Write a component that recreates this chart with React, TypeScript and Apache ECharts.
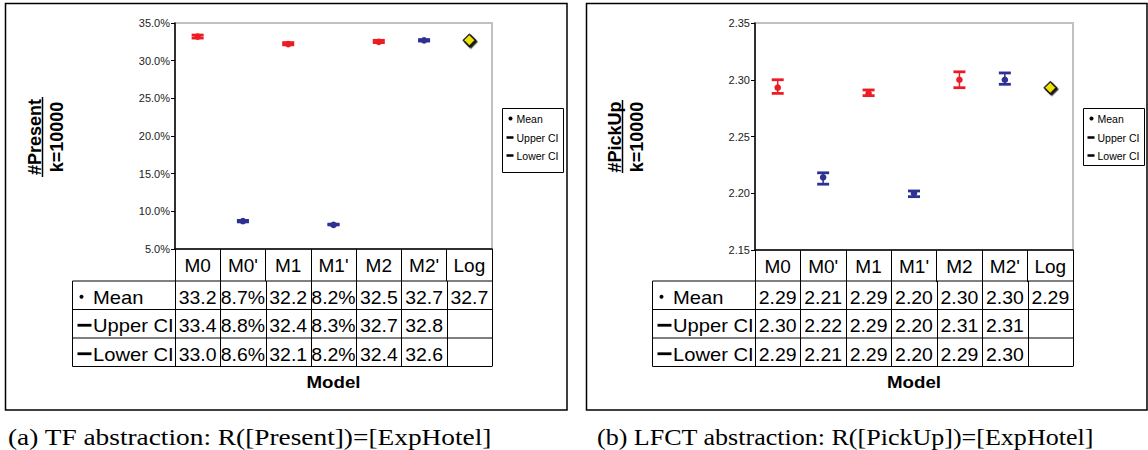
import React, { useEffect, useRef } from "react";
import * as echarts from "echarts";

// ---------- data ----------
const categories = ["M0", "M0'", "M1", "M1'", "M2", "M2'", "Log"];
const rowNames = ["Mean", "Upper CI", "Lower CI"];

// (a) #Present, in percent
const presentMean = [33.2, 8.7, 32.2, 8.2, 32.5, 32.7, 32.7];
const presentUpper = [33.4, 8.8, 32.4, 8.3, 32.7, 32.8, null];
const presentLower = [33.0, 8.6, 32.1, 8.2, 32.4, 32.6, null];
const presentAxis = { min: 5, max: 35, interval: 5 };

// (b) #PickUp
const pickupMean = [2.293, 2.214, 2.288, 2.2, 2.3, 2.3, 2.293];
const pickupUpper = [2.3, 2.218, 2.291, 2.202, 2.307, 2.306, null];
const pickupLower = [2.288, 2.208, 2.286, 2.197, 2.293, 2.296, null];
const pickupAxis = { min: 2.15, max: 2.35, interval: 0.05 };

const captionA = "(a) TF abstraction: R([Present])=[ExpHotel]";
const captionB = "(b) LFCT abstraction: R([PickUp])=[ExpHotel]";

// ---------- styles ----------
const RED = "#ed1c24";
const BLUE = "#2e3192";
const YELLOW = "#fff200";
const SANS = 'Arial, "Liberation Sans", sans-serif';
const SERIF = '"Liberation Serif", "Times New Roman", serif';

type Panel = {
  mean: number[];
  upper: (number | null)[];
  lower: (number | null)[];
  axis: { min: number; max: number; interval: number };
  axisFmt: (v: number) => string;
  cellFmt: (v: number) => string;
  title: string;
  caption: string;
  captionX: number;
  captionScale: number;
  frame: [number, number, number, number];
  grid: { left: number; top: number; width: number; height: number };
  tableLeft: number;
  rowY: number[];
  legend: [number, number, number, number];
  titleBase: number;
  titleY: number;
  underline: [number, number];
};

const panels: Panel[] = [
  {
    mean: presentMean,
    upper: presentUpper,
    lower: presentLower,
    axis: presentAxis,
    axisFmt: (v) => v.toFixed(1) + "%",
    cellFmt: (v) => (v >= 10 ? v.toFixed(1) : v.toFixed(1) + "%"),
    title: "#Present",
    caption: captionA,
    captionX: 8,
    captionScale: 1.14,
    frame: [5.5, 3.5, 561.5, 406.5],
    grid: { left: 175, top: 23, width: 317, height: 226 },
    tableLeft: 72.5,
    rowY: [281, 309.5, 338, 366.5],
    legend: [502.5, 108.5, 61, 64],
    titleBase: 40,
    titleY: 137,
    underline: [97, 177],
  },
  {
    mean: pickupMean,
    upper: pickupUpper,
    lower: pickupLower,
    axis: pickupAxis,
    axisFmt: (v) => v.toFixed(2),
    cellFmt: (v) => v.toFixed(2),
    title: "#PickUp",
    caption: captionB,
    captionX: 597,
    captionScale: 1.085,
    frame: [586.5, 3.5, 560.5, 406.5],
    grid: { left: 755, top: 23, width: 318, height: 227 },
    tableLeft: 652.5,
    rowY: [281, 309.5, 338, 366.5],
    legend: [1083.5, 108.5, 61, 57],
    titleBase: 620,
    titleY: 137,
    underline: [100, 173],
  },
];

function txt(x: number, y: number, text: string, font: string, align = "left", vAlign = "middle", extra: any = {}) {
  return {
    type: "text",
    x,
    y,
    silent: true,
    ...extra,
    style: {
      text,
      font,
      fill: "#000",
      align,
      textAlign: align,
      verticalAlign: vAlign,
      textVerticalAlign: vAlign,
    },
  };
}

function ln(x1: number, y1: number, x2: number, y2: number, w = 1, color = "#000") {
  return {
    type: "line",
    silent: true,
    shape: { x1, y1, x2, y2 },
    style: { stroke: color, lineWidth: w },
  };
}

function build() {
  const grids: any[] = [];
  const xAxes: any[] = [];
  const yAxes: any[] = [];
  const series: any[] = [];
  const graphics: any[] = [];

  panels.forEach((p, pi) => {
    const g = p.grid;
    const cw = g.width / categories.length;
    const gRight = g.left + g.width;

    grids.push({
      left: g.left,
      top: g.top,
      width: g.width,
      height: g.height,
      show: true,
      borderColor: "#c0c0c0",
      borderWidth: 2,
      backgroundColor: "transparent",
    });
    xAxes.push({
      type: "category",
      gridIndex: pi,
      data: categories,
      boundaryGap: true,
      axisLine: { show: true, lineStyle: { color: "#000", width: 1.5 } },
      axisTick: { show: true, interval: 0, length: 32, lineStyle: { color: "#000", width: 1 } },
      axisLabel: { interval: 0, margin: 7, color: "#000", fontSize: 19, fontFamily: SANS },
      splitLine: { show: false },
    });
    yAxes.push({
      type: "value",
      gridIndex: pi,
      min: p.axis.min,
      max: p.axis.max,
      interval: p.axis.interval,
      axisLine: { show: true, lineStyle: { color: "#000", width: 1.5 } },
      axisTick: { show: true, length: 4, lineStyle: { color: "#000" } },
      axisLabel: {
        color: "#222",
        fontSize: 11,
        fontFamily: SANS,
        margin: 5,
        formatter: (v: number) => p.axisFmt(v),
      },
      splitLine: { show: false },
    });

    const errData: number[][] = [];
    const logData: number[][] = [];
    categories.forEach((_, i) => {
      const up = p.upper[i];
      const lo = p.lower[i];
      if (up != null && lo != null) errData.push([i, p.mean[i], lo, up]);
      else logData.push([i, p.mean[i]]);
    });

    series.push({
      type: "custom",
      xAxisIndex: pi,
      yAxisIndex: pi,
      data: errData,
      encode: { x: 0, y: [1, 2, 3] },
      renderItem: (params: any, api: any) => {
        const idx = api.value(0);
        const pm = api.coord([idx, api.value(1)]);
        const pl = api.coord([idx, api.value(2)]);
        const ph = api.coord([idx, api.value(3)]);
        const color = idx % 2 === 0 ? RED : BLUE;
        const hw = 6;
        return {
          type: "group",
          children: [
            { type: "line", shape: { x1: pm[0], y1: ph[1], x2: pm[0], y2: pl[1] }, style: { stroke: color, lineWidth: 1.5 } },
            { type: "line", shape: { x1: pm[0] - hw, y1: ph[1], x2: pm[0] + hw, y2: ph[1] }, style: { stroke: color, lineWidth: 2.8 } },
            { type: "line", shape: { x1: pm[0] - hw, y1: pl[1], x2: pm[0] + hw, y2: pl[1] }, style: { stroke: color, lineWidth: 2.8 } },
            { type: "circle", shape: { cx: pm[0], cy: pm[1], r: 3.3 }, style: { fill: color } },
          ],
        };
      },
    });
    series.push({
      type: "scatter",
      xAxisIndex: pi,
      yAxisIndex: pi,
      data: logData,
      symbol: "diamond",
      symbolSize: 12,
      itemStyle: {
        color: YELLOW,
        borderColor: "#000",
        borderWidth: 1.5,
        shadowColor: "#000",
        shadowOffsetX: 1.5,
        shadowOffsetY: 1.5,
        shadowBlur: 0,
      },
    });

    // frame
    const [fx, fy, fw, fh] = p.frame;
    graphics.push({
      type: "rect",
      silent: true,
      shape: { x: fx, y: fy, width: fw, height: fh },
      style: { fill: "none", stroke: "#000", lineWidth: 1.5 },
    });

    // y title
    const fontTitle = `bold 18px ${SANS}`;
    graphics.push(txt(p.titleBase - 5.4, p.titleY, p.title, fontTitle, "center", "middle", { rotation: Math.PI / 2 }));
    graphics.push(ln(p.titleBase + 2.5, p.underline[0], p.titleBase + 2.5, p.underline[1], 1.5));
    graphics.push(txt(p.titleBase + 22 - 5.4, p.titleY, "k=10000", fontTitle, "center", "middle", { rotation: Math.PI / 2 }));

    // legend
    const [lx, ly, lw, lh] = p.legend;
    graphics.push({
      type: "rect",
      silent: true,
      shape: { x: lx, y: ly, width: lw, height: lh },
      style: { fill: "#fff", stroke: "#000", lineWidth: 1 },
    });
    const legY = [ly + 10, ly + 29, ly + 47];
    const fontLeg = `10.5px ${SANS}`;
    graphics.push({ type: "circle", silent: true, shape: { cx: lx + 8, cy: legY[0], r: 2 }, style: { fill: "#000" } });
    graphics.push(ln(lx + 4, legY[1], lx + 11, legY[1], 2.5));
    graphics.push(ln(lx + 4, legY[2], lx + 11, legY[2], 2.5));
    rowNames.forEach((n, k) => graphics.push(txt(lx + 14, legY[k], n, fontLeg)));

    // table
    const ry = p.rowY;
    ry.forEach((y) => graphics.push(ln(p.tableLeft, y, gRight, y, 1)));
    graphics.push(ln(p.tableLeft, ry[0], p.tableLeft, ry[3], 1));
    for (let k = 0; k <= categories.length; k++) {
      const x = Math.round(g.left + k * cw) + 0.5;
      graphics.push(ln(x, ry[0], x, ry[3], 1));
    }
    const fontCell = `18px ${SANS}`;
    const rowsVals = [p.mean, p.upper, p.lower];
    rowsVals.forEach((vals, r) => {
      const cy = (ry[r] + ry[r + 1]) / 2 + 2.5;
      // row header
      if (r === 0) {
        graphics.push({ type: "circle", silent: true, shape: { cx: p.tableLeft + 9, cy: cy - 1, r: 2 }, style: { fill: "#000" } });
      } else {
        graphics.push(ln(p.tableLeft + 5, cy - 1, p.tableLeft + 19, cy - 1, 2.8));
      }
      graphics.push(txt(p.tableLeft + 20.5, cy, rowNames[r], fontCell, "left", "middle", { scaleX: 1.12 }));
      vals.forEach((v, i) => {
        if (v == null) return;
        graphics.push(txt(g.left + (i + 0.5) * cw, cy, p.cellFmt(v), fontCell, "center", "middle", { scaleX: 1.08 }));
      });
    });

    // x title
    graphics.push(txt(g.left + g.width / 2, 382, "Model", `bold 17px ${SANS}`, "center", "middle", { scaleX: 1.1 }));

    // caption
    graphics.push(txt(p.captionX, 437, p.caption, `24px ${SERIF}`, "left", "middle", { scaleX: p.captionScale }));
  });

  return {
    animation: false,
    backgroundColor: "#fff",
    grid: grids,
    xAxis: xAxes,
    yAxis: yAxes,
    series,
    graphic: { elements: graphics },
  };
}

export default function App() {
  const ref = useRef<HTMLDivElement>(null);
  useEffect(() => {
    if (!ref.current) return;
    const chart = echarts.init(ref.current, undefined, { renderer: "svg" });
    chart.setOption(build() as any);
    return () => chart.dispose();
  }, []);
  return (
    <div
      ref={ref}
      style={{ position: "absolute", left: 0, top: 0, width: 1148, height: 450, background: "#fff" }}
    />
  );
}
